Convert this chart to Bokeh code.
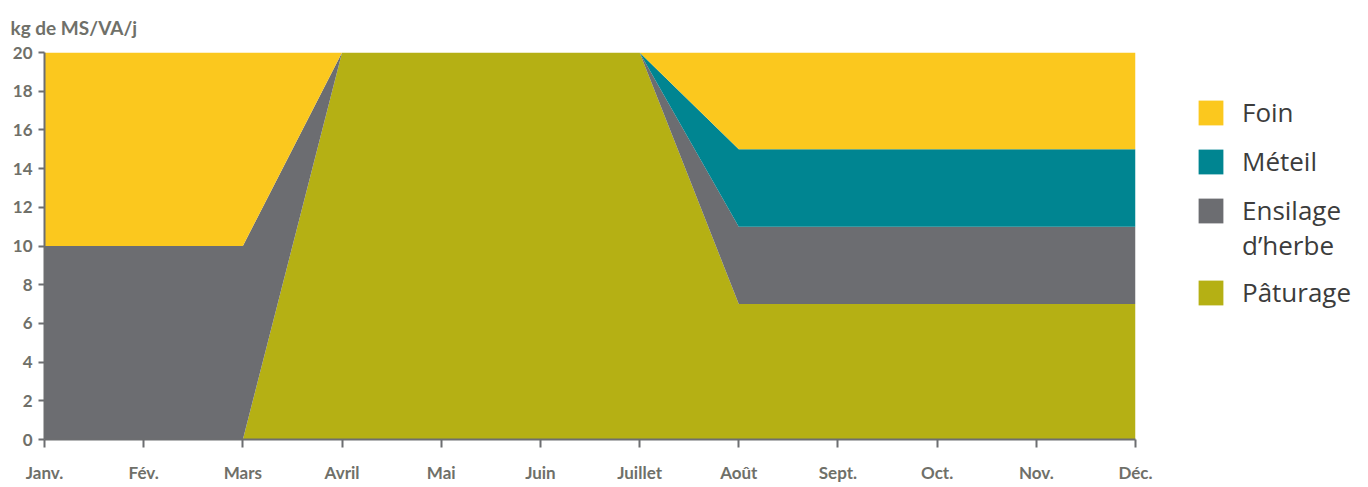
from bokeh.plotting import figure
from bokeh.models import FixedTicker, Legend, LegendItem, Range1d
from bokeh.layouts import row
from bokeh.embed import file_html
from bokeh.resources import INLINE

months = ["Janv.", "Fév.", "Mars", "Avril", "Mai", "Juin", "Juillet",
          "Août", "Sept.", "Oct.", "Nov.", "Déc."]
paturage = [0, 0, 0, 20, 20, 20, 20, 7, 7, 7, 7, 7]
ensilage = [10, 10, 10, 0, 0, 0, 0, 4, 4, 4, 4, 4]
meteil = [0, 0, 0, 0, 0, 0, 0, 4, 4, 4, 4, 4]
foin = [10, 10, 10, 0, 0, 0, 0, 5, 5, 5, 5, 5]
y_ticks = list(range(0, 21, 2))

colors = ["#B5B014", "#6C6D71", "#008591", "#FBC81E"]

x = list(range(len(months)))
data = dict(x=x, pat=paturage, ens=ensilage, met=meteil, foin=foin)

p = figure(width=1155, height=485, output_backend="svg", toolbar_location=None,
           x_range=Range1d(0, len(months) - 1), y_range=Range1d(0, 20),
           min_border_left=44, min_border_right=20, min_border_top=51,
           min_border_bottom=44)

rs = p.varea_stack(["pat", "ens", "met", "foin"], x="x", color=colors, source=data)

p.xgrid.visible = False
p.ygrid.visible = False
p.outline_line_color = None

axis_color = "#6d6e71"
label_color = "#6f7069"
for ax in (p.xaxis[0], p.yaxis[0]):
    ax.axis_line_color = axis_color
    ax.axis_line_width = 2
    ax.major_tick_line_color = axis_color
    ax.major_tick_line_width = 2
    ax.minor_tick_line_color = None
    ax.major_tick_in = 0
    ax.major_label_text_font = "Lato"
    ax.major_label_text_font_style = "bold"
    ax.major_label_text_font_size = "17px"
    ax.major_label_text_color = label_color

p.xaxis.ticker = FixedTicker(ticks=x)
p.xaxis.major_label_overrides = {i: m for i, m in enumerate(months)}
p.xaxis.major_tick_out = 8
p.xaxis.major_label_standoff = 14
p.yaxis.ticker = FixedTicker(ticks=y_ticks)
p.yaxis.major_tick_out = 6
p.yaxis.major_label_standoff = 6

p.title.text = "kg de MS/VA/j"
p.title.text_font = "Lato"
p.title.text_font_style = "bold"
p.title.text_font_size = "19px"
p.title.text_color = label_color
p.title.align = "left"
p.title.offset = -34
p.title.standoff = 27

# Legend panel as its own figure
lf = figure(width=205, height=485, output_backend="svg", toolbar_location=None,
            x_range=Range1d(0, 1), y_range=Range1d(0, 1),
            x_axis_location=None, y_axis_location=None,
            min_border=0, outline_line_color=None)
lf.xgrid.visible = False
lf.ygrid.visible = False
off = dict(x=[5, 6], y1=[5, 5], y2=[6, 6])  # outside the visible range
g_foin = lf.varea(x="x", y1="y1", y2="y2", color=colors[3], source=off)
g_met = lf.varea(x="x", y1="y1", y2="y2", color=colors[2], source=off)
g_ens = lf.varea(x="x", y1="y1", y2="y2", color=colors[1], source=off)
g_blank = lf.varea(x="x", y1="y1", y2="y2", fill_alpha=0, source=off)
g_pat = lf.varea(x="x", y1="y1", y2="y2", color=colors[0], source=off)

style = dict(padding=0, margin=0, border_line_color=None, background_fill_alpha=0,
             glyph_width=31, glyph_height=31, label_standoff=16,
             label_text_font="Open Sans", label_text_font_size="26px",
             label_text_color="#3c3c3c")

leg_a = Legend(items=[LegendItem(label="Foin", renderers=[g_foin]),
                      LegendItem(label="Méteil", renderers=[g_met]),
                      LegendItem(label="Ensilage", renderers=[g_ens])],
               location=(40, 211), spacing=13, **style)
leg_b = Legend(items=[LegendItem(label="d’herbe", renderers=[g_blank]),
                      LegendItem(label="Pâturage", renderers=[g_pat])],
               location=(40, 129), spacing=11, **style)
lf.add_layout(leg_a, "center")
lf.add_layout(leg_b, "center")

layout = row(p, lf, spacing=0)
open("out.html", "w").write(file_html(layout, INLINE))
